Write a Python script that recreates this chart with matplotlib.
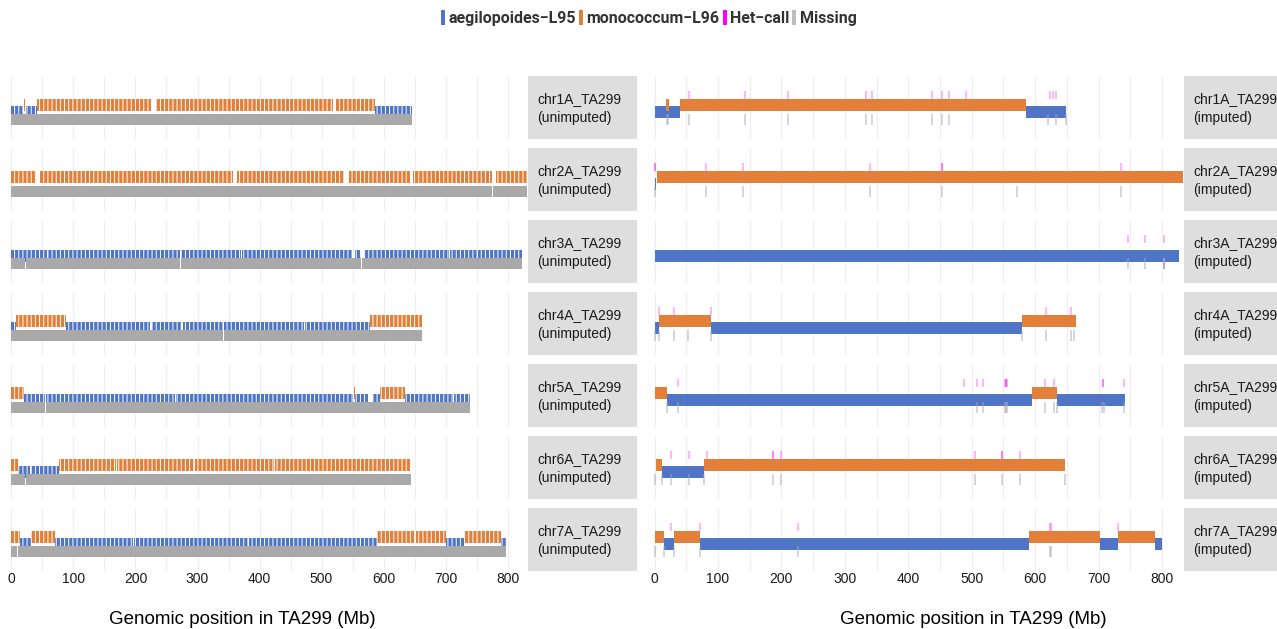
import matplotlib
matplotlib.use("Agg")
import matplotlib.pyplot as plt
from matplotlib.patches import Patch, Rectangle

# ── Colours ──────────────────────────────────────────────────────────────────
C_AEG   = "#5075C6"
C_MONO  = "#E2803A"
C_HET   = "#FF00FF"
C_MISS  = "#A9A9A9"
C_STRIP = "#DEDEDE"
C_GRID  = "#EFEFEF"

plt.rcParams["font.family"] = ["Liberation Sans", "DejaVu Sans"]
plt.rcParams["hatch.linewidth"] = 0.7

# ── Data (Mb) ────────────────────────────────────────────────────────────────
CHROMS = ["chr1A", "chr2A", "chr3A", "chr4A", "chr5A", "chr6A", "chr7A"]
SAMPLE = "TA299"

# unimputed calls: (start, end) blocks per chromosome
UNIMP_AEG = [
    [(0, 19), (23, 41), (586, 646)],
    [],
    [(0, 57), (58.5, 272), (274, 370), (371.5, 549), (554, 563), (568, 705),
     (707, 751), (753, 823)],
    [(0, 8), (88.6, 224), (226, 274), (276, 341), (343, 471), (473, 578)],
    [(19.8, 53.5), (55, 79), (80, 263.5), (265, 551.5), (554.5, 575),
     (583, 594.8), (634.5, 712.5), (714, 740)],
    [(11, 30.5), (32, 77.4)],
    [(14.5, 31), (70.8, 196), (197.5, 381), (383, 589), (700.8, 729),
     (788.8, 797)],
]
UNIMP_MONO = [
    [(19.4, 22.6), (41, 225), (233, 519), (523, 586)],
    [(0, 40), (46, 357), (364, 537), (544, 643), (648, 775), (781, 832)],
    [],
    [(8, 88.6), (578, 662)],
    [(0, 19.8), (551.8, 554.5), (594.8, 634.5)],
    [(0, 11), (77.4, 168), (169.5, 294), (295.5, 423), (424.5, 645)],
    [(0, 14.5), (31, 70.8), (589, 651), (652.5, 700.8), (729, 788.8)],
]
UNIMP_MISS = [
    [(0, 646)],
    [(0, 45.5), (46.5, 775.5), (776.5, 832)],
    [(0, 22), (23, 272), (273.5, 563.5), (564.5, 823)],
    [(0, 341.5), (342.5, 471.5), (472.5, 662)],
    [(0, 54), (55, 503.5), (504.5, 579.5), (580.5, 740)],
    [(0, 22), (23, 645)],
    [(0, 9.5), (10.5, 378), (379, 797)],
]

# imputed calls
IMP_AEG = [
    [(0, 39.5), (586, 648)],
    [(0, 3)],
    [(0, 826)],
    [(0, 7.7), (89, 580)],
    [(19.3, 594.6), (634.6, 741)],
    [(11.8, 77.5)],
    [(15, 31), (71.7, 589.6), (701.6, 730), (789.3, 799.5)],
]
IMP_MONO = [
    [(18.3, 22.7), (39.5, 586)],
    [(3.5, 833)],
    [],
    [(7.7, 89), (580, 663.6)],
    [(0, 19.3), (594.6, 634.6)],
    [(2.6, 11.8), (77.5, 646.3)],
    [(0, 15), (31, 71.7), (589.6, 701.6), (730, 789.3)],
]
# single-marker positions
IMP_HET = [
    [53.7, 142.5, 210.2, 332.6, 343.5, 436.9, 453.1, 463.9, 491.6, 623.6,
     628.8, 633.4],
    [0.5, 1.5, 81.4, 139, 340, 453.5, 453.5, 734.5],
    [746, 773, 802.6],
    [7.7, 30.9, 89, 617, 655.7],
    [36.2, 488.5, 507.8, 517.5, 552.5, 553.5, 554.5, 555.5, 615.3, 630.1,
     707.4, 707.4, 739.7],
    [26.6, 53.7, 82.7, 187, 187, 199.8, 504.6, 547.7, 547.7, 575.4],
    [26.6, 71.7, 225.7, 623.6, 625.7, 730],
]
IMP_MISS = [
    [19, 22, 54, 142, 210, 333, 343, 437, 453, 464, 620, 633, 648],
    [1.5, 81.4, 139, 340, 453.5, 571, 734.5],
    [746, 773, 802.6, 802.6, 802.6],
    [0, 7.7, 30.9, 52.8, 89, 580, 617, 655.7, 660.9],
    [19.3, 36.2, 507.8, 517.5, 553, 554, 555, 615.3, 630.1, 634.6, 706, 708,
     739.7],
    [0, 11.8, 26.6, 53.7, 77.5, 187, 199.8, 504.6, 547.7, 575.4, 646.3],
    [0, 15, 31, 71.7, 225.7, 623.6, 625.7],
]

LEGEND_LABELS = ["aegilopoides\u2212L95", "monococcum\u2212L96", "Het\u2212call", "Missing"]
XTICKS = [0, 100, 200, 300, 400, 500, 600, 700, 800]

# ── Layout (pixels) ──────────────────────────────────────────────────────────
W, H = 1277, 629
ROW_TOP, ROW_STEP, ROW_H = 76, 72, 63
XLIM = (-4, 833)
# vertical band of each call type inside a facet (px from facet top)
Y_HET, Y_MONO, Y_AEG, Y_MISS = (15, 8), (23, 12), (30, 12), (38, 11)

fig = plt.figure(figsize=(W / 100, H / 100), dpi=100)
fig.patch.set_facecolor("white")


def fig_axes(x0, x1, top, h):
    return fig.add_axes([x0 / W, 1 - (top + h) / H, (x1 - x0) / W, h / H])


def blocks(seg):
    return [(s, e - s) for s, e in seg]


def facet(ax, bottom_row):
    ax.set_xlim(*XLIM)
    ax.set_ylim(ROW_H, 0)
    ax.set_xticks(XTICKS)
    ax.set_xticks(range(50, 801, 100), minor=True)
    ax.set_yticks([])
    ax.grid(True, which="both", axis="x", color=C_GRID, lw=0.9, zorder=0)
    ax.set_axisbelow(True)
    ax.tick_params(axis="x", which="both", length=0, pad=1,
                   labelsize=10, labelcolor="#1a1a1a")
    if not bottom_row:
        ax.tick_params(axis="x", labelbottom=False)
    for s in ax.spines.values():
        s.set_visible(False)


def strip(x0, top, label):
    fig.patches.append(Rectangle((x0 / W, 1 - (top + ROW_H) / H), 109 / W, ROW_H / H,
                                 transform=fig.transFigure, facecolor=C_STRIP,
                                 edgecolor="none"))
    fig.text((x0 + 9) / W, 1 - (top + ROW_H / 2 + 1) / H, label,
             ha="left", va="center", fontsize=10, color="#1a1a1a",
             linespacing=1.5)


panels = [
    dict(x0=9, x1=528, tag="unimputed"),
    dict(x0=652, x1=1183, tag="imputed"),
]

for i, chrom in enumerate(CHROMS):
    top = ROW_TOP + i * ROW_STEP
    last = i == len(CHROMS) - 1

    # unimputed: dense markers, drawn as striped blocks
    ax = fig_axes(panels[0]["x0"], panels[0]["x1"], top, ROW_H)
    facet(ax, last)
    ax.broken_barh(blocks(UNIMP_AEG[i]), Y_AEG, facecolor=C_AEG,
                   edgecolor="white", hatch="||||", linewidth=0, zorder=2)
    ax.broken_barh(blocks(UNIMP_MONO[i]), Y_MONO, facecolor=C_MONO,
                   edgecolor="white", hatch="||||", linewidth=0, zorder=3)
    ax.broken_barh(blocks(UNIMP_MISS[i]), Y_MISS, facecolor=C_MISS,
                   linewidth=0, zorder=4)
    strip(panels[0]["x1"], top, f"{chrom}_{SAMPLE}\n(unimputed)")

    # imputed: solid haplotype blocks plus single het / missing markers
    ax = fig_axes(panels[1]["x0"], panels[1]["x1"], top, ROW_H)
    facet(ax, last)
    ax.broken_barh(blocks(IMP_AEG[i]), Y_AEG, facecolor=C_AEG,
                   linewidth=0, zorder=2)
    ax.broken_barh(blocks(IMP_MONO[i]), Y_MONO, facecolor=C_MONO,
                   linewidth=0, zorder=3)
    ax.vlines(IMP_MISS[i], Y_MISS[0], Y_MISS[0] + Y_MISS[1], color=C_MISS,
              lw=1.2, alpha=0.55, zorder=4)
    ax.vlines(IMP_HET[i], Y_HET[0], Y_HET[0] + Y_HET[1], color=C_HET,
              lw=1.2, alpha=0.35, zorder=5)
    strip(panels[1]["x1"] + 1, top, f"{chrom}_{SAMPLE}\n(imputed)")

# axis titles
for cx in (242, 973):
    fig.text(cx / W, 1 - 620 / H, f"Genomic position in {SAMPLE} (Mb)",
             ha="center", va="center", fontsize=13.5, color="black")

# legend
handles = [Patch(facecolor=c, edgecolor="none")
           for c in (C_AEG, C_MONO, C_HET, "#BDBDBD")]
fig.legend(handles, LEGEND_LABELS, loc="center",
           bbox_to_anchor=(649 / W, 1 - 18 / H), ncol=4, frameon=False,
           handlelength=0.25, handleheight=1.1, handletextpad=0.2,
           columnspacing=0.2, borderpad=0,
           prop=dict(family="Roboto", weight="bold", size=11.5),
           labelcolor="#333333")

fig.savefig("out.png", dpi=100, facecolor="white")
